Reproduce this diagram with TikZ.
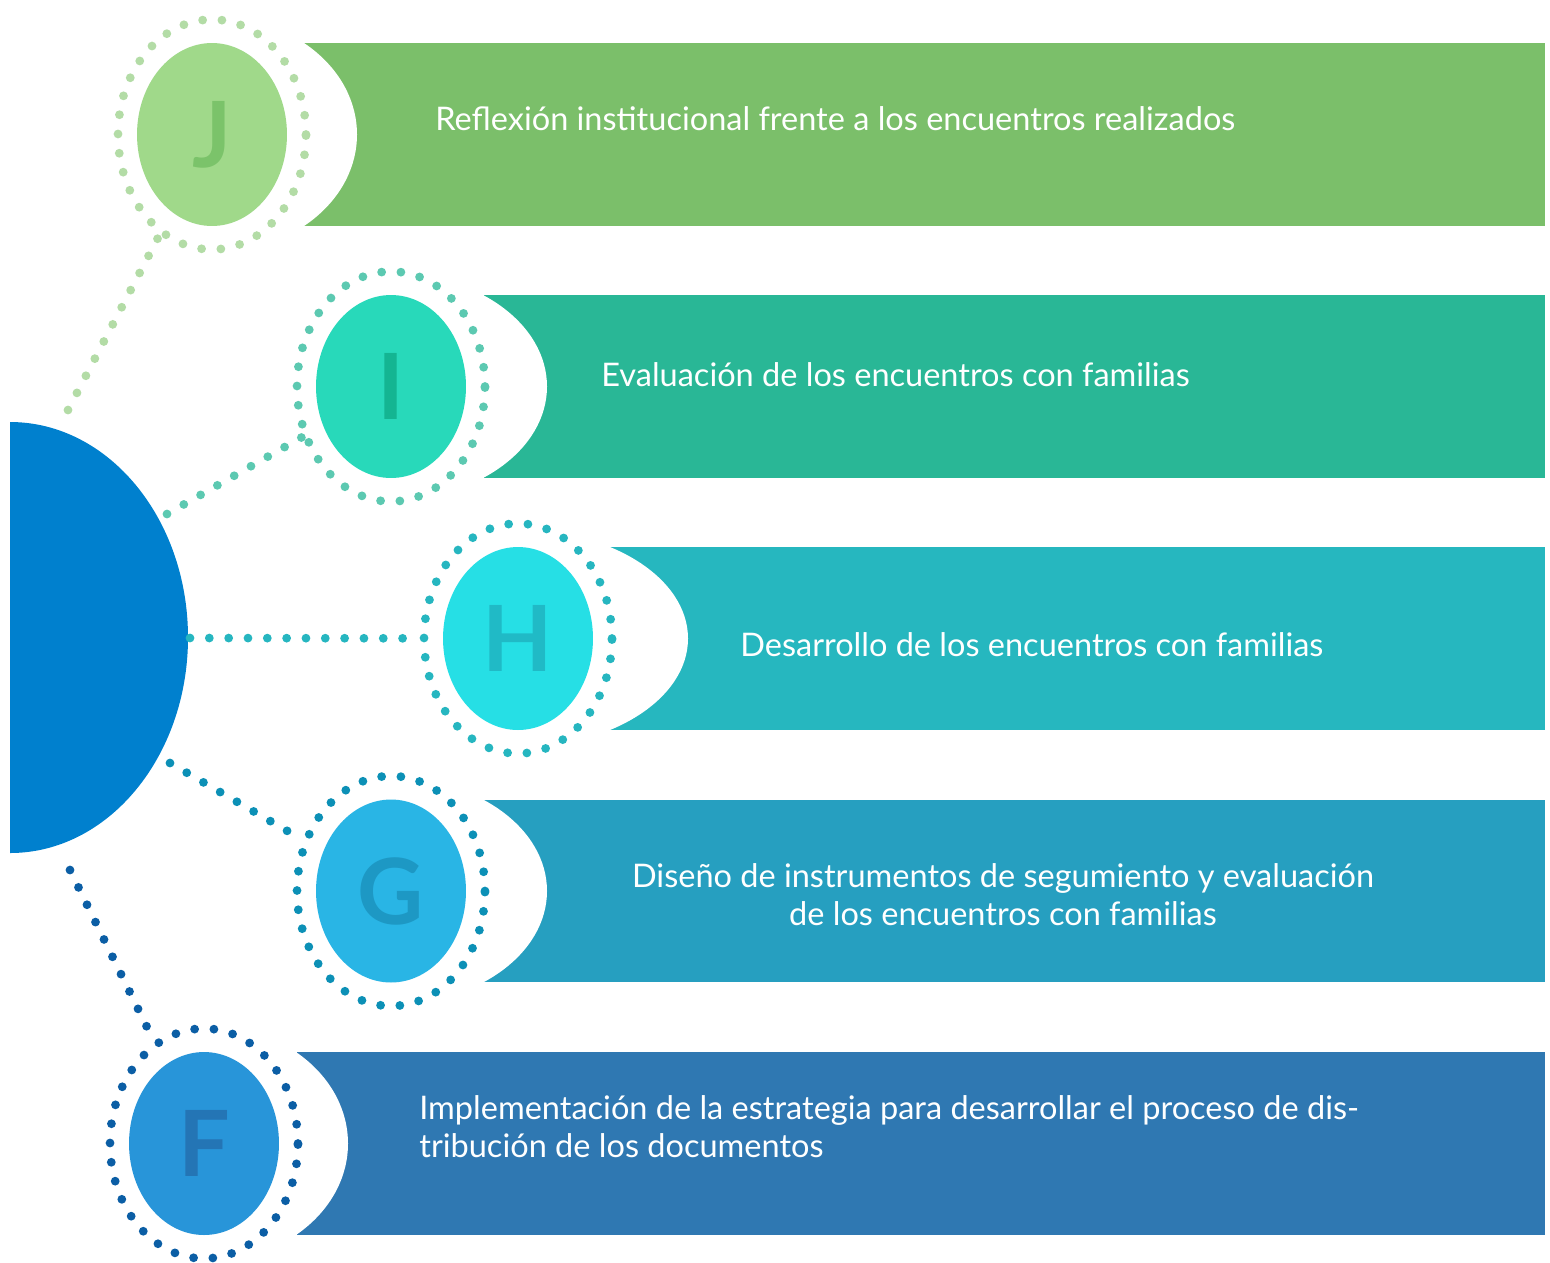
\documentclass[tikz,border=0pt]{standalone}
\usepackage{fontspec}
\setmainfont{Lato}
\usepackage{tikz}
\usetikzlibrary{positioning,shapes.geometric}

\definecolor{hubblue}{HTML}{0080CE}
\definecolor{bandJ}{HTML}{7BBF6A}
\definecolor{discJ}{HTML}{A0D98A}
\definecolor{dotJ}{HTML}{B3DCA6}
\definecolor{letterJ}{HTML}{7BC36A}
\definecolor{bandI}{HTML}{29B796}
\definecolor{discI}{HTML}{28D9BA}
\definecolor{dotI}{HTML}{5CC9B1}
\definecolor{letterI}{HTML}{14B592}
\definecolor{bandH}{HTML}{26B7BF}
\definecolor{discH}{HTML}{26DFE5}
\definecolor{dotH}{HTML}{26B6C0}
\definecolor{letterH}{HTML}{20BAC6}
\definecolor{bandG}{HTML}{269FC0}
\definecolor{discG}{HTML}{29B5E5}
\definecolor{dotG}{HTML}{0C90B6}
\definecolor{letterG}{HTML}{1D98C4}
\definecolor{bandF}{HTML}{2F78B2}
\definecolor{discF}{HTML}{2895D9}
\definecolor{dotF}{HTML}{0B5EA5}
\definecolor{letterF}{HTML}{2475B5}

\begin{document}
\begin{tikzpicture}[x=0.02cm, y=-0.02cm, disc/.style = {ellipse, inner sep=0pt, minimum width=3cm, minimum height=3.66cm, font=\fontsize{52}{52}\selectfont\bfseries}, ring/.style = {ellipse, draw, inner sep=0pt, minimum width=3.76cm, minimum height=4.6cm, line width=5pt, dash pattern=on 0pt off 11pt, line cap=round}, link/.style = {line width=5pt, dash pattern=on 0pt off 11pt, line cap=round}, bandtext/.style = {text=white, anchor=base west, inner sep=0pt, font=\fontsize{18.5}{21.5}\selectfont}]

\useasboundingbox (0,0) rectangle (1550,1262);

% bands with their white bite
\fill[bandJ] (304,43) rectangle (1545,226);
\fill[white] (212,134.5) ellipse [x radius=145, y radius=118.4];
\fill[bandI] (484,295) rectangle (1545,478);
\fill[white] (391,386.5) ellipse [x radius=156, y radius=113.3];
\fill[bandH] (610,547) rectangle (1545,730);
\fill[white] (518,638.5) ellipse [x radius=170, y radius=108.8];
\fill[bandG] (484,800) rectangle (1545,982);
\fill[white] (391,891) ellipse [x radius=156, y radius=113.3];
\fill[bandF] (297,1052) rectangle (1545,1235);
\fill[white] (204,1143.5) ellipse [x radius=144, y radius=118.9];

% hub
\fill[hubblue] (10,422) arc[start angle=-90, end angle=90, x radius=178, y radius=215.5] -- cycle;
\coordinate (hubJ) at (68,410);
\coordinate (hubI) at (167,514);
\coordinate (hubH) at (190,638);
\coordinate (hubG) at (170,763);
\coordinate (hubF) at (70,870);

% rings and discs
\node[ring, draw=dotJ] (ringJ) at (212,134.5) {};
\node[ring, draw=dotI] (ringI) at (391,386.5) {};
\node[ring, draw=dotH] (ringH) at (518,638.5) {};
\node[ring, draw=dotG] (ringG) at (391,891) {};
\node[ring, draw=dotF] (ringF) at (204,1143.5) {};

\node[disc, fill=discJ, text=letterJ] (J) at (212,134.5) {J};
\node[disc, fill=discI, text=letterI] (I) at (391,386.5) {I};
\node[disc, fill=discH, text=letterH] (H) at (518,638.5) {H};
\node[disc, fill=discG, text=letterG] (G) at (391,891) {G};
\node[disc, fill=discF, text=letterF] (F) at (204,1143.5) {F};

\path[link]
    (hubJ) edge[dotJ] (ringJ)
    (hubI) edge[dotI] (ringI)
    (hubH) edge[dotH] (ringH)
    (hubG) edge[dotG] (ringG)
    (hubF) edge[dotF] (ringF);

% texts
\node[bandtext] (textJ) at (435,130) {Reflexión institucional frente a los encuentros realizados};
\node[bandtext] (textI) at (601,386) {Evaluación de los encuentros con familias};
\node[bandtext] (textH) at (740,656) {Desarrollo de los encuentros con familias};
\node[bandtext, anchor=base, align=center] (textG) at (1003,925) {Diseño de instrumentos de segumiento y evaluación\\de los encuentros con familias};
\node[bandtext, align=left] (textF) at (419,1157) {Implementación de la estrategia para desarrollar el proceso de dis-\\tribución de los documentos};
\end{tikzpicture}
\end{document}
